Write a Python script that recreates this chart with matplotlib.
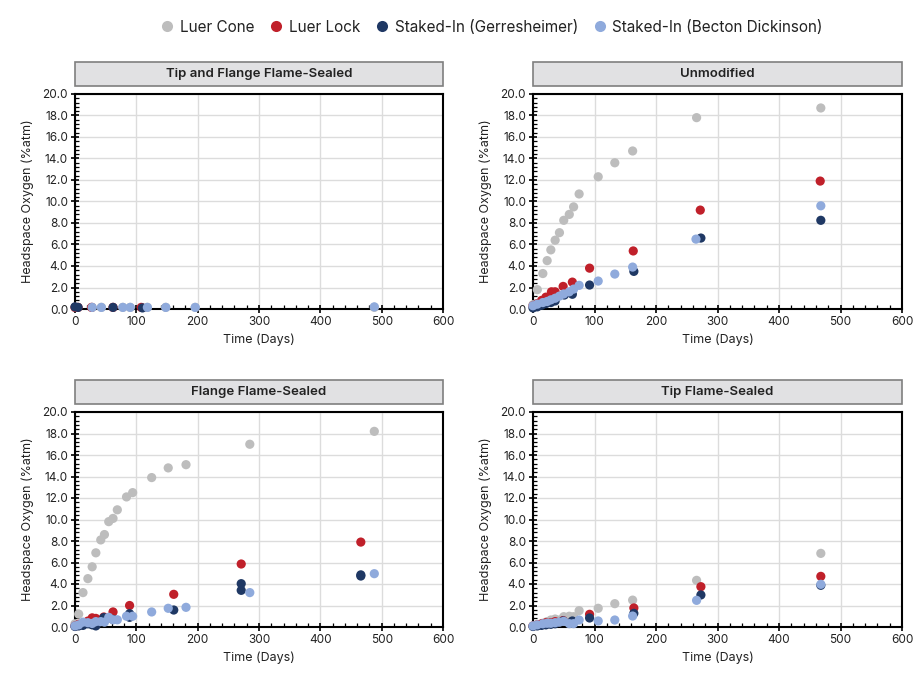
import matplotlib
matplotlib.use("Agg")
import matplotlib.pyplot as plt
from matplotlib.patches import Rectangle
from matplotlib.lines import Line2D
from matplotlib.ticker import MultipleLocator

plt.rcParams['font.family'] = ['Inter', 'DejaVu Sans']

series_names = ["Luer Cone", "Luer Lock", "Staked-In (Gerresheimer)", "Staked-In (Becton Dickinson)"]
colors = ["#BDBDBD", "#C0202A", "#1F3864", "#8FAADC"]

panel_titles = ["Tip and Flange Flame-Sealed", "Unmodified", "Flange Flame-Sealed", "Tip Flame-Sealed"]

# ---- Tip and Flange Flame-Sealed ----
tf_cone_x = [0, 28, 43, 78, 90, 118, 148, 196, 488]
tf_cone_y = [0.15, 0.15, 0.15, 0.15, 0.15, 0.15, 0.15, 0.15, 0.15]
tf_lock_x = [0, 5, 27, 62, 108]
tf_lock_y = [0.15, 0.15, 0.15, 0.15, 0.15]
tf_ger_x = [0, 5, 62, 110]
tf_ger_y = [0.2, 0.15, 0.15, 0.1]
tf_bd_x = [28, 43, 78, 90, 118, 148, 196, 488]
tf_bd_y = [0.15, 0.15, 0.15, 0.15, 0.15, 0.15, 0.15, 0.2]

# ---- Unmodified ----
un_cone_x = [0, 7, 16, 23, 29, 36, 43, 50, 59, 66, 75, 106, 133, 162, 266, 468]
un_cone_y = [0.4, 1.8, 3.3, 4.5, 5.5, 6.4, 7.1, 8.25, 8.8, 9.5, 10.7, 12.3, 13.6, 14.7, 17.8, 18.7]
un_lock_x = [0, 7, 14, 21, 30, 36, 49, 64, 92, 163, 272, 467]
un_lock_y = [0.3, 0.5, 0.8, 1.1, 1.6, 1.6, 2.1, 2.5, 3.8, 5.4, 9.2, 11.9]
un_ger_x = [0, 7, 14, 21, 29, 36, 51, 64, 92, 164, 273, 468]
un_ger_y = [0.1, 0.2, 0.35, 0.5, 0.6, 0.75, 1.3, 1.37, 2.23, 3.5, 6.6, 8.25]
un_bd_x = [0, 7, 16, 23, 29, 36, 43, 50, 59, 66, 75, 106, 133, 162, 265, 468]
un_bd_y = [0.3, 0.45, 0.6, 0.7, 0.85, 1.0, 1.2, 1.4, 1.6, 1.85, 2.2, 2.6, 3.25, 3.9, 6.5, 9.6]

# ---- Flange Flame-Sealed ----
ff_cone_x = [0, 6, 13, 21, 28, 34, 42, 48, 55, 62, 69, 84, 94, 125, 152, 181, 285, 488]
ff_cone_y = [0.3, 1.2, 3.2, 4.5, 5.6, 6.9, 8.1, 8.6, 9.8, 10.1, 10.9, 12.1, 12.5, 13.9, 14.8, 15.1, 17.0, 18.2]
ff_lock_x = [0, 6, 13, 21, 28, 34, 47, 62, 89, 161, 271, 466]
ff_lock_y = [0.1, 0.25, 0.35, 0.55, 0.85, 0.8, 0.93, 1.4, 2.0, 3.04, 5.86, 7.9]
ff_ger_x = [0, 6, 13, 21, 28, 34, 47, 62, 89, 89, 161, 271, 271, 466, 466]
ff_ger_y = [0.05, 0.1, 0.15, 0.3, 0.2, 0.1, 0.87, 0.7, 1.24, 0.9, 1.58, 4.03, 3.41, 4.74, 4.85]
ff_bd_x = [0, 6, 13, 21, 28, 34, 42, 48, 55, 62, 69, 84, 94, 125, 152, 181, 285, 488]
ff_bd_y = [0.1, 0.2, 0.45, 0.4, 0.33, 0.5, 0.5, 0.45, 0.9, 0.67, 0.67, 1.0, 1.0, 1.4, 1.74, 1.83, 3.2, 4.96]

# ---- Tip Flame-Sealed ----
tp_cone_x = [0, 7, 16, 23, 29, 36, 43, 50, 59, 66, 75, 106, 133, 162, 266, 468]
tp_cone_y = [0.1, 0.25, 0.35, 0.5, 0.65, 0.74, 0.65, 0.96, 1.0, 0.96, 1.52, 1.74, 2.17, 2.5, 4.34, 6.85]
tp_lock_x = [0, 7, 14, 21, 29, 36, 49, 64, 92, 164, 273, 468]
tp_lock_y = [0.1, 0.2, 0.3, 0.4, 0.4, 0.5, 0.6, 0.5, 1.18, 1.77, 3.75, 4.71]
tp_ger_x = [0, 7, 14, 21, 29, 36, 49, 64, 92, 164, 273, 468]
tp_ger_y = [0.05, 0.1, 0.15, 0.2, 0.25, 0.3, 0.56, 0.56, 0.84, 1.27, 2.98, 3.88]
tp_bd_x = [0, 7, 16, 23, 29, 36, 43, 50, 59, 66, 75, 106, 133, 162, 266, 468]
tp_bd_y = [0.1, 0.2, 0.3, 0.35, 0.35, 0.4, 0.45, 0.53, 0.31, 0.31, 0.65, 0.56, 0.65, 1.02, 2.48, 3.97]

panels = [
    [(tf_cone_x, tf_cone_y), (tf_lock_x, tf_lock_y), (tf_ger_x, tf_ger_y), (tf_bd_x, tf_bd_y)],
    [(un_cone_x, un_cone_y), (un_lock_x, un_lock_y), (un_ger_x, un_ger_y), (un_bd_x, un_bd_y)],
    [(ff_cone_x, ff_cone_y), (ff_lock_x, ff_lock_y), (ff_ger_x, ff_ger_y), (ff_bd_x, ff_bd_y)],
    [(tp_cone_x, tp_cone_y), (tp_lock_x, tp_lock_y), (tp_ger_x, tp_ger_y), (tp_bd_x, tp_bd_y)],
]

fig = plt.figure(figsize=(9.18, 6.84), dpi=100)
W, H = 918, 684
lefts = [75, 533]
rights = [443, 902]
tops = [94, 412]
bottoms = [309, 627]

text_color = "#222222"
for i, data in enumerate(panels):
    r, c = divmod(i, 2)
    l, rr = lefts[c], rights[c]
    t, b = tops[r], bottoms[r]
    ax = fig.add_axes([l / W, 1 - b / H, (rr - l) / W, (b - t) / H])
    for (xs, ys), col in zip(data, colors):
        ax.scatter(xs, ys, s=44, color=col, edgecolors='none', zorder=3, clip_on=False)
    ax.set_xlim(0, 600)
    ax.set_ylim(0, 20)
    ax.xaxis.set_major_locator(MultipleLocator(100))
    ax.xaxis.set_minor_locator(MultipleLocator(20))
    ax.yaxis.set_major_locator(MultipleLocator(2))
    ax.yaxis.set_minor_locator(MultipleLocator(0.4))
    ax.set_yticklabels([f"{v:.1f}" for v in ax.get_yticks()])
    ax.grid(True, which='major', color='#DCDCDC', linewidth=1.0, zorder=0)
    ax.set_axisbelow(True)
    ax.tick_params(which='major', direction='inout', length=6, width=1.2,
                   labelsize=8.5, labelcolor=text_color, pad=2)
    ax.tick_params(which='minor', direction='in', length=3, width=0.9)
    for sp in ax.spines.values():
        sp.set_color('black')
        sp.set_linewidth(1.5)
    ax.set_xlabel("Time (Days)", fontsize=9, color=text_color, labelpad=4)
    ax.set_ylabel("Headspace Oxygen (%atm)", fontsize=9, color=text_color, labelpad=6)
    h = 24 / (b - t)
    g = 8 / (b - t)
    rect = Rectangle((0, 1 + g), 1, h, transform=ax.transAxes, clip_on=False,
                     facecolor='#E1E1E3', edgecolor='#7F7F7F', linewidth=1.2)
    ax.add_patch(rect)
    ax.text(0.5, 1 + g + h / 2, panel_titles[i], transform=ax.transAxes,
            ha='center', va='center', fontsize=9.5, fontweight='semibold', color=text_color)

handles = [Line2D([], [], marker='o', linestyle='none', markersize=8,
                  markerfacecolor=col, markeredgecolor='none') for col in colors]
fig.legend(handles, series_names, loc='center', bbox_to_anchor=(492 / W, 1 - 27 / H),
           ncol=4, frameon=False, fontsize=11, handlelength=0.8, handletextpad=0.45,
           columnspacing=1.0, labelcolor=text_color)

fig.savefig("out.png", dpi=100)
